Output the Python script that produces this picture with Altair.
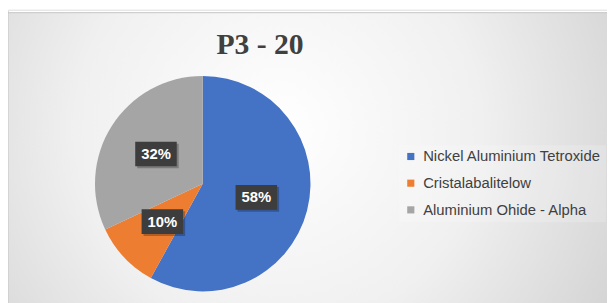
import altair as alt
import pandas as pd

categories = ["Nickel Aluminium Tetroxide", "Cristalabalitelow", "Aluminium Ohide - Alpha"]
values = [58, 10, 32]
labels = ["58%", "10%", "32%"]
colors = ["#4472C4", "#ED7D31", "#A5A5A5"]
title_text = "P3 - 20"

W, H = 606, 296
CX, CY, R = 197, 176, 109
LR = 56

df = pd.DataFrame({"category": categories, "value": values, "label": labels,
                   "order": list(range(len(categories)))})

bg = alt.Chart(pd.DataFrame({"a": [0]})).mark_rect(
    fill=alt.RadialGradient(
        gradient="radial", x1=0.45, y1=0.45, r1=0.0, x2=0.45, y2=0.45, r2=0.75,
        stops=[alt.GradientStop(offset=0, color="#ffffff"),
               alt.GradientStop(offset=0.45, color="#f0f0f0"),
               alt.GradientStop(offset=1, color="#c8c8c8")]),
    stroke="#c4c4c4", strokeWidth=1
).encode(x=alt.value(0), x2=alt.value(W + 2), y=alt.value(3), y2=alt.value(H + 2))

base = alt.Chart(df)

pie = base.mark_arc(radius=R).encode(
    theta=alt.Theta("value:Q", stack=True),
    color=alt.Color("category:N",
                    scale=alt.Scale(domain=categories, range=colors),
                    legend=alt.Legend(title=None, orient="none", legendX=396, legendY=137,
                                      symbolType="square", symbolSize=52,
                                      symbolStrokeWidth=0, labelLimit=0,
                                      labelFont="Liberation Sans", labelFontSize=15,
                                      labelColor="#404040", rowPadding=11,
                                      labelOffset=5, padding=4,
                                      fillColor="rgba(255,255,255,0.18)")),
    order=alt.Order("order:Q"),
    x=alt.value(CX), y=alt.value(CY),
)

lab = base.transform_stack(
    stack="value", groupby=[], as_=["v0", "v1"], sort=[alt.SortField("order")]
).transform_joinaggregate(total="sum(value)").transform_calculate(
    ang="PI*(datum.v0+datum.v1)/datum.total"
).transform_calculate(
    lx=f"{CX}+{LR}*sin(datum.ang)", ly=f"{CY}-{LR}*cos(datum.ang)"
).transform_calculate(
    bx1="datum.lx-21", bx2="datum.lx+21", by1="datum.ly-12.5", by2="datum.ly+12.5",
    sx1="datum.lx-19", sx2="datum.lx+23", sy1="datum.ly-10.5", sy2="datum.ly+14.5"
)

shadow = lab.mark_rect(color="#000000", opacity=0.25).encode(
    x=alt.X("sx1:Q", scale=None), x2="sx2:Q",
    y=alt.Y("sy1:Q", scale=None), y2="sy2:Q")
boxes = lab.mark_rect(color="#3d3d3d").encode(
    x=alt.X("bx1:Q", scale=None), x2="bx2:Q",
    y=alt.Y("by1:Q", scale=None), y2="by2:Q")
texts = lab.mark_text(font="Liberation Sans", fontSize=15, fontWeight="bold",
                      color="#ffffff", align="center", baseline="middle").encode(
    x=alt.X("lx:Q", scale=None), y=alt.Y("ly:Q", scale=None), text="label:N")

title = alt.Chart(pd.DataFrame({"t": [title_text]})).mark_text(
    font="Liberation Serif", fontSize=30, fontWeight="bold", color="#404040",
    align="center", baseline="alphabetic"
).encode(x=alt.value(255), y=alt.value(45), text="t:N")

chart = alt.layer(bg, pie, shadow, boxes, texts, title).properties(
    width=W, height=H, padding=0, autosize="none"
).configure_view(stroke=None).configure(background="#ffffff")

chart.save("out.html", embed_options={"renderer": "svg", "actions": False})
